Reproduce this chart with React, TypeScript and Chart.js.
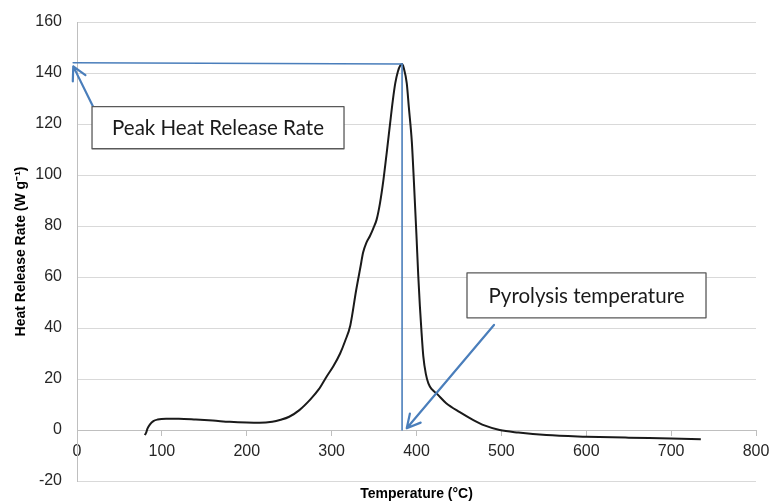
import React, { useEffect, useRef } from 'react';
import { Chart, registerables } from 'chart.js';

Chart.register(...registerables);

// ---- Data ----
const temperatureC = [
  80, 81.5, 83, 86, 90, 95, 105, 120, 140, 160, 180, 200, 215, 230, 240, 250,
  262, 275, 285, 294, 302, 310, 316, 322, 329, 334, 337, 341, 345, 349, 353,
  357, 361, 365, 369, 372, 375, 378, 381, 383, 385, 388.5, 391, 394.5, 397,
  400, 402, 404, 406, 408, 411, 414, 418, 424, 435, 451, 467, 480, 498, 520,
  553, 600, 650, 700, 735,
];
const heatReleaseRate = [
  -2, -1, 0.5, 2.2, 3.5, 4.1, 4.4, 4.4, 4.1, 3.7, 3.2, 2.9, 2.8, 3.2, 4, 5.2,
  7.8, 12, 16, 20.9, 25, 30, 35, 41, 55, 64, 69.5, 73.5, 76, 79, 82.5,
  89, 98, 109, 120.5, 129, 136, 140.5, 143, 143.5, 142, 136, 126.5, 113, 97,
  76, 61, 48.5, 38, 29, 22, 18.3, 16, 14.2, 10.5, 7, 3.9, 1.8, 0, -1,
  -2, -2.6, -3, -3.3, -3.6,
];
const xTickValues = [0, 100, 200, 300, 400, 500, 600, 700, 800];
const yTickValues = [-20, 0, 20, 40, 60, 80, 100, 120, 140, 160];

const peakTemperature = 383;
const peakLabel = 'Peak Heat Release Rate';
const pyrolysisLabel = 'Pyrolysis temperature';

// annotation geometry, in data units
const annotations = {
  hLine: { x1: -4.5, y1: 144.0, x2: peakTemperature, y2: 143.5 },
  vLine: { x1: peakTemperature, y1: 143.5, x2: peakTemperature, y2: 0 },
  peakArrow: { fromX: 19, fromY: 126.8, toX: -4.4, toY: 142.6 },
  pyroArrow: { fromX: 491.3, fromY: 41.2, toX: 388.5, toY: 0.7 },
  peakBox: { x1: 17.7, x2: 314.6, y1: 126.8, y2: 110.3, text: peakLabel },
  pyroBox: { x1: 459.5, x2: 741.1, y1: 61.6, y2: 44, text: pyrolysisLabel },
};

const BLUE = '#4a7ebb';

function drawArrow(ctx: CanvasRenderingContext2D, x1: number, y1: number, x2: number, y2: number) {
  const ang = Math.atan2(y1 - y2, x1 - x2);
  const head = 15;
  const spread = (28 * Math.PI) / 180;
  ctx.beginPath();
  ctx.moveTo(x1, y1);
  ctx.lineTo(x2, y2);
  ctx.moveTo(x2 + head * Math.cos(ang - spread), y2 + head * Math.sin(ang - spread));
  ctx.lineTo(x2, y2);
  ctx.lineTo(x2 + head * Math.cos(ang + spread), y2 + head * Math.sin(ang + spread));
  ctx.stroke();
}

const annotationPlugin = {
  id: 'hrrAnnotations',
  afterDatasetsDraw(chart: any) {
    const { ctx, scales } = chart;
    const xs = scales.x;
    const ys = scales.y;
    const px = (v: number) => xs.getPixelForValue(v);
    const py = (v: number) => ys.getPixelForValue(v);
    ctx.save();
    ctx.lineCap = 'round';
    ctx.lineJoin = 'round';
    ctx.strokeStyle = BLUE;
    ctx.lineWidth = 1.6;
    const { hLine, vLine, peakArrow, pyroArrow } = annotations;
    ctx.beginPath();
    ctx.moveTo(px(hLine.x1), py(hLine.y1));
    ctx.lineTo(px(hLine.x2), py(hLine.y2));
    ctx.stroke();
    ctx.beginPath();
    ctx.moveTo(px(vLine.x1), py(vLine.y1));
    ctx.lineTo(px(vLine.x2), py(vLine.y2));
    ctx.stroke();
    ctx.lineWidth = 2.2;
    drawArrow(ctx, px(peakArrow.fromX), py(peakArrow.fromY), px(peakArrow.toX), py(peakArrow.toY));
    drawArrow(ctx, px(pyroArrow.fromX), py(pyroArrow.fromY), px(pyroArrow.toX), py(pyroArrow.toY));

    for (const b of [annotations.peakBox, annotations.pyroBox]) {
      const l = px(b.x1);
      const r = px(b.x2);
      const t = py(b.y1);
      const bt = py(b.y2);
      ctx.fillStyle = '#ffffff';
      ctx.fillRect(l, t, r - l, bt - t);
      ctx.strokeStyle = '#595959';
      ctx.lineWidth = 1.3;
      ctx.strokeRect(l, t, r - l, bt - t);
      ctx.fillStyle = '#1a1a1a';
      ctx.font = '20.5px Lato, "Open Sans", sans-serif';
      ctx.textAlign = 'center';
      ctx.textBaseline = 'middle';
      ctx.fillText(b.text, (l + r) / 2, (t + bt) / 2 + 1);
    }
    ctx.restore();
  },
};

export default function App() {
  const canvasRef = useRef<HTMLCanvasElement | null>(null);

  useEffect(() => {
    document.body.style.margin = '0';
    const canvas = canvasRef.current;
    if (!canvas) return;
    Chart.defaults.font.family = '"Liberation Sans", Arial, sans-serif';

    const points = temperatureC.map((t, i) => ({ x: t, y: heatReleaseRate[i] }));

    const chart = new Chart(canvas, {
      type: 'line',
      data: {
        datasets: [
          {
            label: 'Heat release rate',
            data: points,
            borderColor: '#1a1a1a',
            borderWidth: 2,
            pointRadius: 0,
            fill: false,
            cubicInterpolationMode: 'monotone',
          },
        ],
      },
      options: {
        responsive: false,
        animation: false,
        events: [],
        layout: { padding: { left: 0, right: 15, top: 22, bottom: 0 } },
        plugins: { legend: { display: false }, tooltip: { enabled: false } },
        scales: {
          x: {
            type: 'linear',
            position: { y: 0 } as any,
            min: 0,
            max: 800,
            afterBuildTicks: (scale: any) => {
              scale.ticks = xTickValues.map((v) => ({ value: v }));
            },
            afterFit: (scale: any) => {
              scale.height = 0;
              scale.paddingLeft = 0;
              scale.paddingRight = 0;
            },
            grid: {
              display: true,
              drawOnChartArea: false,
              drawTicks: true,
              tickLength: 5,
              color: '#bfbfbf',
            },
            border: { display: true, color: '#bfbfbf', width: 1 },
            ticks: {
              padding: 7,
              color: '#262626',
              font: { size: 16 },
              maxRotation: 0,
            },
          },
          x2: {
            type: 'linear',
            position: 'bottom',
            min: 0,
            max: 800,
            afterFit: (scale: any) => {
              scale.height = 23;
              scale.paddingLeft = 0;
              scale.paddingRight = 0;
            },
            grid: { display: false },
            border: { display: false },
            ticks: { display: false },
            title: {
              display: true,
              text: 'Temperature (°C)',
              color: '#000000',
              font: { size: 14, weight: 'bold' },
              padding: { top: 0, bottom: 1 },
            },
          },
          y: {
            type: 'linear',
            position: 'left',
            min: -20,
            max: 160,
            afterBuildTicks: (scale: any) => {
              scale.ticks = yTickValues.map((v) => ({ value: v }));
            },
            afterFit: (scale: any) => {
              scale.width = 77;
              scale.paddingTop = 0;
              scale.paddingBottom = 0;
            },
            grid: { color: '#d9d9d9', drawTicks: false, lineWidth: 1 },
            border: { display: true, color: '#bfbfbf', width: 1 },
            ticks: { padding: 15, color: '#262626', font: { size: 16 } },
            title: {
              display: true,
              text: 'Heat Release Rate (W g⁻¹)',
              color: '#000000',
              font: { size: 14, weight: 'bold' },
              padding: { top: 13, bottom: 0 },
            },
          },
        },
      },
      plugins: [annotationPlugin],
    });

    return () => chart.destroy();
  }, []);

  return (
    <div style={{ position: 'absolute', left: 0, top: 0, width: 771, height: 504 }}>
      <canvas ref={canvasRef} width={771} height={504} />
    </div>
  );
}
